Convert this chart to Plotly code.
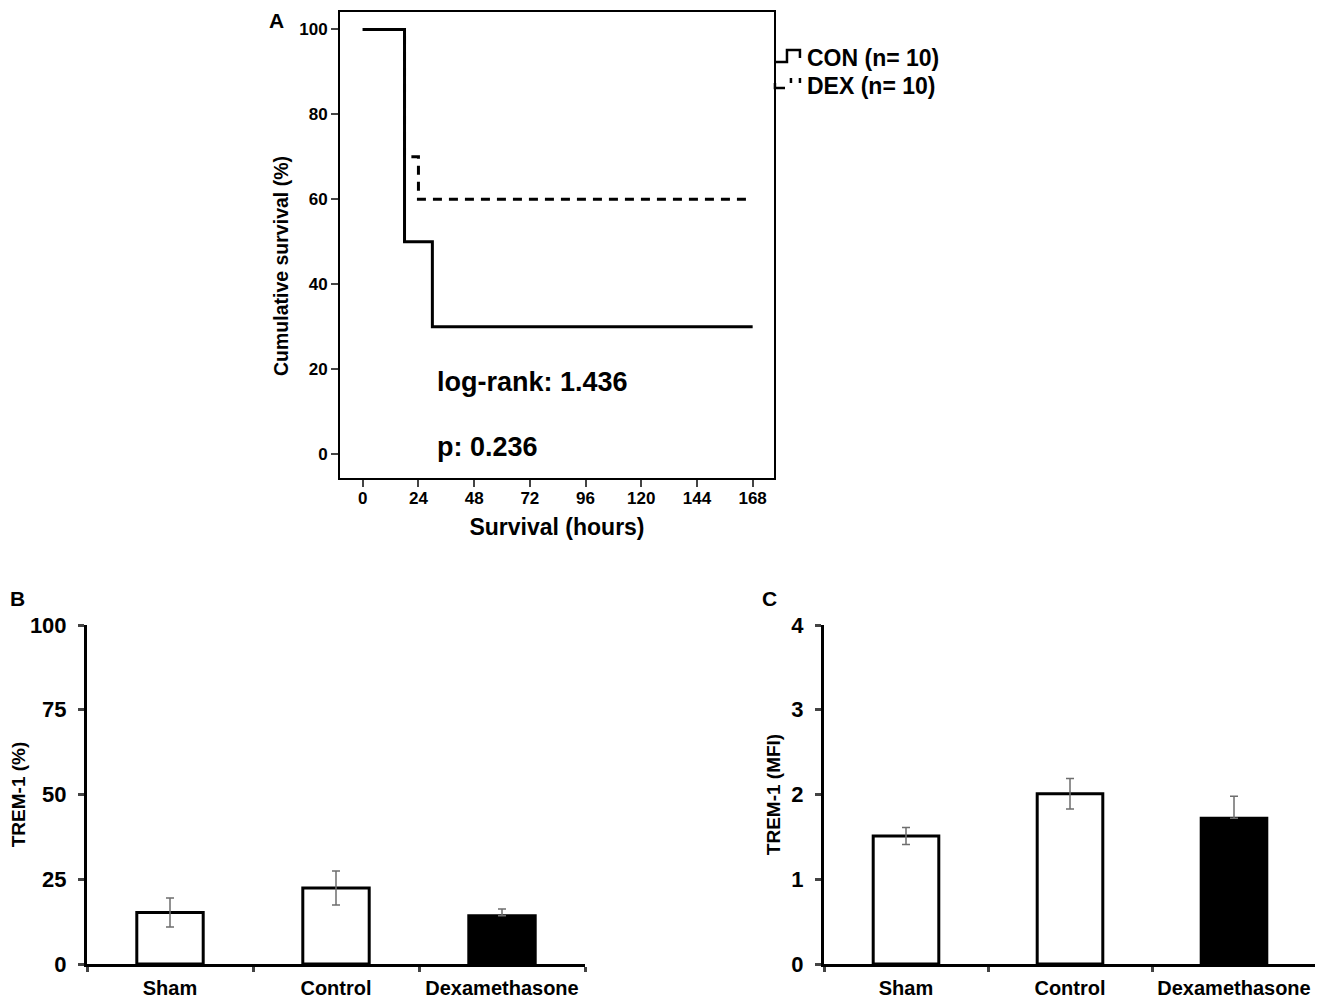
import plotly.graph_objects as go

# Panel A - Kaplan-Meier steps (hours, % surviving)
con_hours = [0, 18, 30, 168]
con_survival = [100, 50, 30, 30]
dex_hours = [0, 18, 24, 168]
dex_survival = [100, 70, 60, 60]
hour_ticks = [0, 24, 48, 72, 96, 120, 144, 168]
survival_ticks = [0, 20, 40, 60, 80, 100]

# Panels B and C - TREM-1 expression
groups = ["Sham", "Control", "Dexamethasone"]
trem1_pct = [15.2, 22.4, 14.2]
trem1_pct_err = [4.3, 5.0, 2.0]
trem1_mfi = [1.51, 2.01, 1.72]
trem1_mfi_err = [0.10, 0.18, 0.26]
bar_fills = ["white", "white", "black"]

W, H = 1323, 1000
FONT = "Arial, Liberation Sans, sans-serif"


#Pixel helpers (page body adds an 8px offset, so positions are shifted back by it)
def px_x(p):
	return (p - 8) / W


def px_y(p):
	return 1 - (p - 8) / H


fig = go.Figure()

#Survival Curves (dashed first so the solid sits on top)
fig.add_trace(go.Scatter(x=dex_hours, y=dex_survival, mode="lines",
	line=dict(color="black", width=3, dash="9px,7px", shape="hv"),
	xaxis="x", yaxis="y", showlegend=False))
fig.add_trace(go.Scatter(x=con_hours, y=con_survival, mode="lines",
	line=dict(color="black", width=3, shape="hv"),
	xaxis="x", yaxis="y", showlegend=False))

#Bar Panels
def add_bars(values, errors, xa, ya):
	minus = [e if f == "white" else 0 for e, f in zip(errors, bar_fills)]
	fig.add_trace(go.Bar(x=groups, y=values, width=0.4,
		marker=dict(color=bar_fills, line=dict(color="black", width=3)),
		error_y=dict(type="data", array=errors, arrayminus=minus,
			color="#6e6e6e", thickness=1.5, width=4),
		xaxis=xa, yaxis=ya, showlegend=False))

add_bars(trem1_pct, trem1_pct_err, "x2", "y2")
add_bars(trem1_mfi, trem1_mfi_err, "x3", "y3")

bold = dict(family=FONT, color="black", weight="bold")

def bar_xaxis(left, right, anchor):
	return dict(domain=[px_x(left), px_x(right)], range=[-0.5, 2.5],
		type="category", tickson="boundaries", ticks="outside", ticklen=5, tickwidth=3,
		showline=True, linewidth=3, linecolor="black", showgrid=False,
		anchor=anchor, automargin=False, tickangle=0, ticklabelstandoff=4,
		tickfont=dict(size=20, **bold))

def bar_yaxis(top, ticks, title, standoff, anchor):
	return dict(domain=[px_y(964), px_y(625)], range=[0, top],
		tickvals=ticks, ticks="outside", ticklen=6, tickwidth=3,
		showline=True, linewidth=3, linecolor="black", showgrid=False,
		zeroline=False, anchor=anchor, automargin=False, ticklabelstandoff=7,
		tickfont=dict(size=22, **bold),
		title=dict(text=title, font=dict(size=19, **bold), standoff=standoff))

#Axis Styling
fig.update_layout(
	width=W, height=H, margin=dict(l=0, r=0, t=0, b=0, autoexpand=False),
	paper_bgcolor="white", plot_bgcolor="white",
	font=dict(family=FONT, color="black"),
	xaxis=dict(domain=[px_x(340), px_x(774)], range=[-9.8, 177.2],
		tickvals=hour_ticks, ticks="outside", ticklen=7, tickwidth=2,
		showline=True, linewidth=2, linecolor="black", mirror=True,
		showgrid=False, zeroline=False, anchor="y", automargin=False,
		ticklabelstandoff=-3, tickfont=dict(size=17, **bold),
		title=dict(text="Survival (hours)", font=dict(size=23, **bold), standoff=11)),
	yaxis=dict(domain=[px_y(478), px_y(12)], range=[-5.65, 104.12],
		tickvals=survival_ticks, ticks="outside", ticklen=7, tickwidth=2,
		showline=True, linewidth=2, linecolor="black", mirror=True,
		showgrid=False, zeroline=False, anchor="x", automargin=False,
		tickfont=dict(size=17, **bold)),
	xaxis2=bar_xaxis(87, 585, "y2"),
	yaxis2=bar_yaxis(100, [0, 25, 50, 75, 100], "TREM-1 (%)", 1, "x2"),
	xaxis3=bar_xaxis(824, 1316, "y3"),
	yaxis3=bar_yaxis(4, [0, 1, 2, 3, 4], "TREM-1 (MFI)", 6, "x3"),
)

#Y Title Of Panel A (sits below the axis centre in the original)
fig.add_annotation(x=px_x(281), y=px_y(266), xref="paper", yref="paper",
	text="Cumulative survival (%)", textangle=-90, showarrow=False,
	xanchor="center", yanchor="middle", font=dict(size=19.5, **bold))

#Statistics Text
fig.add_annotation(x=31, y=17, xref="x", yref="y", text="log-rank: 1.436",
	showarrow=False, xanchor="left", yanchor="middle", font=dict(size=27, **bold))
fig.add_annotation(x=31, y=1.7, xref="x", yref="y", text="p: 0.236",
	showarrow=False, xanchor="left", yanchor="middle", font=dict(size=27, **bold))

#Panel Letters
for letter, lx, ly in [("A", 267, 20), ("B", 8, 598), ("C", 760, 598)]:
	fig.add_annotation(x=px_x(lx), y=px_y(ly), xref="paper", yref="paper", text=letter,
		showarrow=False, xanchor="left", yanchor="middle", font=dict(size=21, **bold))

#Legend Text And Step Glyphs
fig.add_annotation(x=px_x(805), y=px_y(58), xref="paper", yref="paper",
	text="CON (n= 10)", showarrow=False, xanchor="left", yanchor="middle",
	font=dict(size=23, **bold))
fig.add_annotation(x=px_x(805), y=px_y(86), xref="paper", yref="paper",
	text="DEX (n= 10)", showarrow=False, xanchor="left", yanchor="middle",
	font=dict(size=23, **bold))

def glyph(points):
	path = "M " + " L ".join("%.4f,%.4f" % (px_x(a), px_y(b)) for a, b in points)
	fig.add_shape(type="path", path=path, xref="paper", yref="paper",
		line=dict(color="black", width=2.5))

glyph([(775, 62), (787, 62), (787, 50), (800, 50), (800, 58)])
glyph([(775, 83), (775, 88), (785, 88)])
glyph([(791, 78), (791, 83)])
glyph([(800, 78), (800, 83)])

fig.write_html("out.html")
